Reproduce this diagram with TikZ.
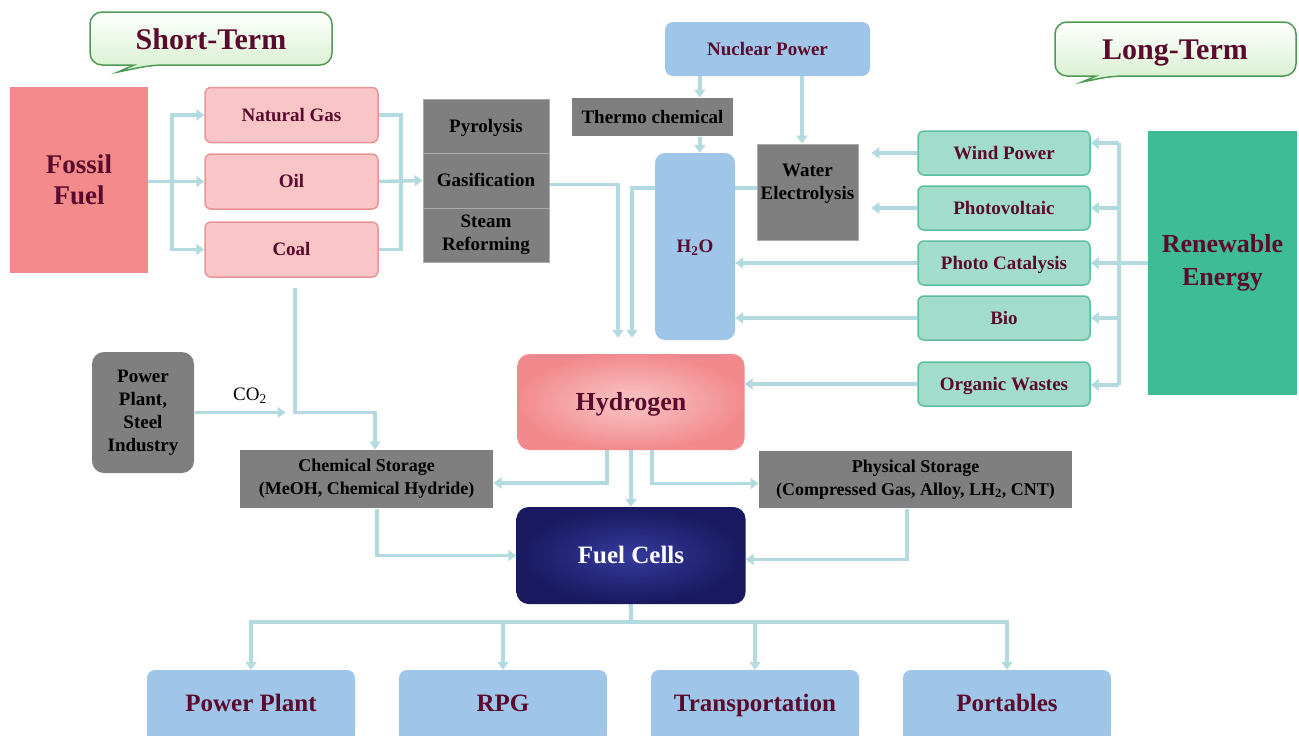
\documentclass[tikz,border=0pt]{standalone}
\usepackage{fontspec}
\setmainfont{Liberation Serif}
\usetikzlibrary{arrows.meta,calc,backgrounds}
\definecolor{conncol}{HTML}{B3DBDF}
\definecolor{txtred}{HTML}{5A0A2C}
\definecolor{fossil}{HTML}{F38A8C}
\definecolor{pinkfill}{HTML}{F9C5C6}
\definecolor{pinkdraw}{HTML}{EA9497}
\definecolor{graybox}{HTML}{7F7F7F}
\definecolor{grayline}{HTML}{ABABAB}
\definecolor{lblue}{HTML}{9FC6E8}
\definecolor{tealfill}{HTML}{A2DCCB}
\definecolor{tealdraw}{HTML}{5DBE9E}
\definecolor{renew}{HTML}{3EBD94}
\definecolor{calloutgreen}{HTML}{4E9A55}
\definecolor{calloutfill}{HTML}{D6F0CE}
\definecolor{navyin}{HTML}{353B9E}
\definecolor{navyout}{HTML}{18195E}
\definecolor{hydin}{HTML}{F9C6C6}
\definecolor{hydout}{HTML}{F28A8D}
\tikzset{
  conn/.style={draw=conncol, line width=3.5pt},
  arr/.style={conn, -{Triangle[width=11pt,length=8pt]}},
  base/.style={inner sep=0pt, align=center, font=\bfseries\fontsize{19}{23}\selectfont},
  one/.style={text height=#1, text depth=0pt},
  one/.default=12.6pt,
  pinkbox/.style={base, one, rounded corners=6pt, fill=pinkfill, draw=pinkdraw, line width=1.5pt, text=txtred, minimum width=173pt, minimum height=55pt},
  graycell/.style={base, fill=graybox, draw=grayline, line width=1pt, text=black},
  bluebox/.style={base, rounded corners=8pt, fill=lblue, text=txtred},
  tealbox/.style={base, one, rounded corners=6pt, fill=tealfill, draw=tealdraw, line width=1.5pt, text=txtred, minimum width=172pt, minimum height=44pt},
  bottombox/.style={base, one=16.5pt, rounded corners=8pt, fill=lblue, text=txtred, font=\bfseries\fontsize{25}{28}\selectfont, minimum width=208pt, minimum height=66pt},
  callout/.style={draw=calloutgreen, line width=1.5pt, top color=white, bottom color=calloutfill},
  calltext/.style={inner sep=0pt, text=txtred, font=\bfseries\fontsize{30}{34}\selectfont},
}
\begin{document}
\begin{tikzpicture}[x=1pt,y=-1pt]
\useasboundingbox (0,0) rectangle (1299,736);
\begin{scope}[on background layer]
\fill[white] (0,0) rectangle (1299,736);
\end{scope}

% callouts
\path[callout] (210,12) [rounded corners=12pt] -- (332,12) -- (332,65) -- (152,65) [sharp corners] -- (118,72) -- (134,65) [rounded corners=12pt] -- (90,65) -- (90,12) -- cycle;
\node[calltext, one=20pt] (st) at (211,39) {Short-Term};
\path[callout] (1175,22) [rounded corners=12pt] -- (1296,22) -- (1296,76) -- (1112,76) [sharp corners] -- (1082,82) -- (1096,76) [rounded corners=12pt] -- (1055,76) -- (1055,22) -- cycle;
\node[calltext, one=20pt] (lt) at (1175,49) {Long-Term};

% fossil side
\node[base, fill=fossil, text=txtred, font=\bfseries\fontsize{27}{31}\selectfont, minimum width=138pt, minimum height=186pt] (ff) at (79,180) {Fossil\\Fuel};
\node[pinkbox] (ng) at (291.5,115) {Natural Gas};
\node[pinkbox] (oil) at (291.5,181.5) {Oil};
\node[pinkbox] (coal) at (291.5,249.5) {Coal};

\node[graycell, one, minimum width=126pt, minimum height=54pt] (pyro) at (486,126) {Pyrolysis};
\node[graycell, one, minimum width=126pt, minimum height=55pt] (gas) at (486,180.5) {Gasification};
\node[graycell, minimum width=126pt, minimum height=54pt] (steam) at (486,235) {Steam\\Reforming};

% nuclear / water
\node[bluebox, one, minimum width=205pt, minimum height=54pt] (np) at (767.5,49) {Nuclear Power};
\node[graycell, one, draw=none, minimum width=161pt, minimum height=38pt] (thermo) at (652.5,117) {Thermo chemical};
\node[bluebox, one, rounded corners=10pt, minimum width=80pt, minimum height=187pt] (h2o) at (695,246.5) {H\textsubscript{2}O};
\node[graycell, minimum width=101pt, minimum height=96pt] (we) at (807.5,192) {};
\node[base, text=black] (welabel) at (807.5,184) {Water\\Electrolysis};

% renewable side
\node[tealbox] (wind) at (1004,153) {Wind Power};
\node[tealbox] (pv) at (1004,208) {Photovoltaic};
\node[tealbox] (pc) at (1004,263) {Photo Catalysis};
\node[tealbox] (bio) at (1004,318) {Bio};
\node[tealbox] (ow) at (1004,384) {Organic Wastes};
\node[base, fill=renew, text=txtred, font=\bfseries\fontsize{26}{33}\selectfont, minimum width=149pt, minimum height=264pt] (re) at (1222.5,263) {Renewable\\Energy};

% middle
\node[graycell, draw=none, rounded corners=12pt, minimum width=102pt, minimum height=121pt] (ppsi) at (143,412.5) {Power\\Plant,\\Steel\\Industry};
\node[inner sep=0pt, font=\fontsize{19}{22}\selectfont] (co2) at (250,396) {CO\textsubscript{2}};
\node[graycell, draw=none, font=\bfseries\fontsize{18}{23}\selectfont, minimum width=253pt, minimum height=58pt] (chem) at (366.5,479) {Chemical Storage\\(MeOH, Chemical Hydride)};
\node[base, one=17pt, rounded corners=12pt, inner color=hydin, outer color=hydout, text=txtred, font=\bfseries\fontsize{26}{30}\selectfont, minimum width=227pt, minimum height=96pt] (hyd) at (631,402) {Hydrogen};
\node[graycell, draw=none, font=\bfseries\fontsize{18}{23}\selectfont, minimum width=313pt, minimum height=57pt] (phys) at (915.5,479.5) {Physical Storage\\(Compressed Gas, Alloy, LH\textsubscript{2}, CNT)};
\node[base, one=16.5pt, rounded corners=12pt, inner color=navyin, outer color=navyout, text=white, font=\bfseries\fontsize{25}{30}\selectfont, minimum width=229pt, minimum height=97pt] (fc) at (631,555.5) {Fuel Cells};

% applications
\node[bottombox] (pp) at (251,703) {Power Plant};
\node[bottombox] (rpg) at (503,703) {RPG};
\node[bottombox] (tr) at (755,703) {Transportation};
\node[bottombox] (port) at (1007,703) {Portables};

\begin{scope}[on background layer]
\foreach \b in {pp,rpg,tr,port}{\fill[lblue] (\b.west) rectangle (\b.south east);}

% fossil fuel branches
\draw[arr] (ff.east |- oil.west) -- (oil.west);
\coordinate (fb) at ($(ff.east |- oil.west)+(24,0)$);
\draw[arr] (fb) |- (ng.west);
\draw[arr] (fb) |- (coal.west);
\coordinate (cb) at ($(oil.east)+(22,0)$);
\draw[conn] (ng.east) -| (cb) |- (coal.east);
\draw[arr] (oil.east) -- (gas.west);

% to hydrogen
\coordinate (hin1) at ($(hyd.north)+(-13,-16)$);
\coordinate (hin2) at ($(hyd.north)+(1,-16)$);
\draw[arr] ($(gas.east)+(0,4)$) -| (hin1);
\draw[arr] ($(we.west)+(0,-4)$) -| (hin2);

% nuclear
\coordinate (n1) at ($(np.south west)+(35,0)$);
\draw[arr] (n1) -- (n1 |- thermo.north);
\draw[arr] (n1 |- thermo.south) -- (n1 |- h2o.north);
\coordinate (n2) at ($(np.south)+(34.5,0)$);
\draw[arr] (n2) -- (n2 |- we.north);

% renewable
\coordinate (rb) at ($(re.west)+(-30,0)$);
\coordinate (rtop) at ($(wind.east)+(28,-10)$);
\coordinate (rbot) at ($(ow.east)+(28,1)$);
\draw[conn] (re.west) -- (rb);
\draw[conn] (rtop) -- (rbot);
\draw[arr] (rtop) -- (wind.east |- rtop);
\draw[arr] (rb |- pv.east) -- (pv.east);
\draw[arr] (rb |- pc.east) -- (pc.east);
\draw[arr] (rb |- bio.east) -- (bio.east);
\draw[arr] (rbot) -- (ow.east |- rbot);

\coordinate (w1) at ($(wind.west)+(-46,0)$);
\coordinate (p1) at ($(pv.west)+(-46,0)$);
\draw[arr] (wind.west) -- (w1);
\draw[arr] (pv.west) -- (p1);
\draw[arr] (pc.west) -- (pc.west -| h2o.east);
\draw[arr] (bio.west) -- (bio.west -| h2o.east);
\draw[arr] (ow.west) -- (ow.west -| hyd.east);

% coal / CO2 to chemical storage
\coordinate (c1) at ($(coal.south)+(3.5,10)$);
\coordinate (c3) at ($(chem.north)+(8.5,0)$);
\draw[arr] (c1) -- (c1 |- ppsi.east) -| (c3);
\coordinate (co2e) at ($(ppsi.east)+(91,0)$);
\draw[arr] (ppsi.east) -- (co2e);

% hydrogen to storage / fuel cells
\coordinate (h1) at ($(hyd.south)+(-24,0)$);
\coordinate (h3) at ($(hyd.south)+(21,0)$);
\draw[arr] (h1) |- ($(chem.east)+(0,4)$);
\draw[arr] (h3) |- ($(phys.west)+(0,4)$);
\draw[arr] (hyd.south) -- (fc.north);

\coordinate (s1) at ($(chem.south)+(10.5,0)$);
\coordinate (s2) at ($(phys.south)+(-8.5,0)$);
\draw[arr] (s1) |- (fc.west);
\draw[arr] (s2) |- ($(fc.east)+(0,4)$);

% outputs
\coordinate (fo) at ($(fc.south)+(0,18)$);
\draw[conn] (fc.south) -- (fo);
\draw[conn, line cap=rect] (fo -| pp.north) -- (fo -| port.north);
\foreach \b in {pp,rpg,tr,port}{\draw[arr] (fo -| \b.north) -- (\b.north);}
\end{scope}
\end{tikzpicture}
\end{document}
